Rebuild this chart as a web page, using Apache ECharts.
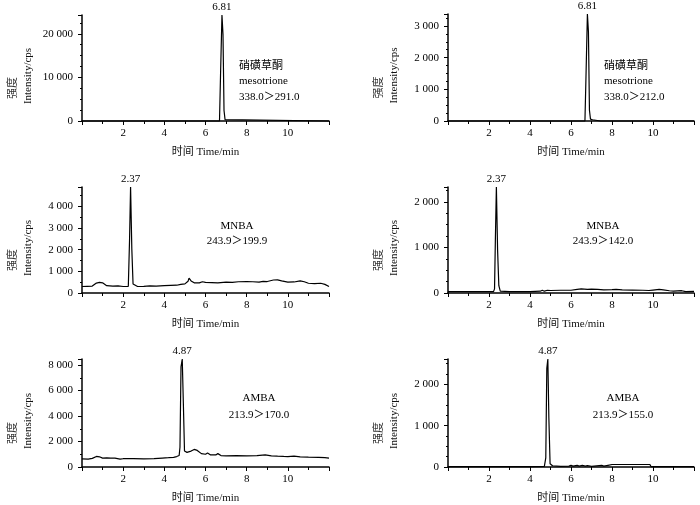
<!DOCTYPE html>
<html><head><meta charset="utf-8">
<script src="https://cdn.jsdelivr.net/npm/echarts@6/dist/echarts.min.js"></script>
<style>html,body{margin:0;padding:0;background:#fff}#c{width:700px;height:505px}</style>
</head><body><div id="c"></div>
<script>
// ---------- DATA ----------
const xTickLabels = [2, 4, 6, 8, 10];
const peakTimes = ['6.81', '6.81', '2.37', '2.37', '4.87', '4.87'];
const yMax = [24300, 3376, 4900, 2327, 8480, 2614];
const yStep = [10000, 1000, 1000, 1000, 2000, 1000];
const annotations = [
  '硝磺草酮\nmesotrione\n338.0＞291.0',
  '硝磺草酮\nmesotrione\n338.0＞212.0',
  'MNBA\n243.9＞199.9',
  'MNBA\n243.9＞142.0',
  'AMBA\n213.9＞170.0',
  'AMBA\n213.9＞155.0'
];

const meso291 = [[0,0],[6.68,0],[6.73,10500],[6.80,24300],[6.85,19800],[6.90,2400],[6.95,300],[7.0,0],[12,0]];

const meso212 = [[0,0],[0.40,0],[0.42,30],[0.46,0],[0.56,0],[0.58,30],[0.62,0],[1.17,0],[1.2,35],[1.24,0],
  [2.46,0],[2.48,25],[2.52,0],[3.27,0],[3.29,30],[3.33,0],[5.71,0],[5.73,30],[5.76,0],[5.82,0],[5.84,30],[5.88,0],
  [6.68,0],[6.73,1370],[6.80,3376],[6.85,2820],[6.90,340],[6.95,60],[7.05,40],[7.1,0],[7.44,0],[7.46,30],[7.5,0],
  [9.67,0],[9.69,30],[9.73,0],[10.03,0],[10.05,30],[10.09,0],[10.43,0],[10.45,30],[10.5,0],[10.58,0],[10.6,30],[10.64,0],
  [11.64,0],[11.66,30],[11.7,0],[12,0]];

const mnba199 = [[0,300],[0.25,310],[0.5,320],[0.7,460],[0.85,490],[1.0,470],[1.2,340],[1.5,320],[1.75,330],[2.0,300],
  [2.25,310],[2.28,320],[2.31,2450],[2.36,4900],[2.42,2050],[2.48,420],[2.55,330],[2.7,300],[3.0,310],[3.3,330],[3.6,320],
  [4.0,340],[4.3,350],[4.6,360],[4.8,400],[5.0,420],[5.15,540],[5.2,690],[5.3,560],[5.45,470],[5.7,470],[5.85,520],
  [6.0,490],[6.3,480],[6.6,470],[7.0,500],[7.3,490],[7.6,520],[8.0,530],[8.3,520],[8.6,500],[8.8,540],[9.0,530],
  [9.3,600],[9.5,610],[9.7,560],[10.0,500],[10.3,510],[10.6,560],[10.8,520],[11.0,450],[11.3,430],[11.6,450],[11.8,400],[12.0,300]];

const mnba142 = [[0,30],[1.0,30],[2.0,30],[2.22,30],[2.27,90],[2.31,1150],[2.36,2327],[2.42,930],[2.48,160],[2.55,40],
  [3.0,30],[4.0,30],[4.5,40],[4.6,60],[4.7,40],[4.85,60],[5.0,55],[5.5,60],[6.0,60],[6.3,80],[6.5,90],[6.8,80],[7.0,85],
  [7.3,80],[7.6,70],[8.0,75],[8.2,80],[8.5,70],[9.0,65],[9.5,60],[9.8,55],[10.0,65],[10.3,80],[10.5,70],[10.8,50],
  [11.0,40],[11.4,50],[11.6,30],[12,35]];

const amba170 = [[0,640],[0.3,620],[0.5,680],[0.7,830],[0.85,800],[1.0,700],[1.2,720],[1.4,690],[1.6,700],[1.85,620],
  [2.0,650],[2.5,650],[3.0,640],[3.5,650],[3.9,700],[4.2,730],[4.45,760],[4.6,820],[4.72,900],[4.76,1550],[4.81,7870],
  [4.87,8480],[4.93,4600],[4.98,1250],[5.1,1150],[5.3,1250],[5.45,1380],[5.6,1300],[5.8,1050],[6.0,1000],[6.1,1100],
  [6.25,950],[6.5,950],[6.6,1050],[6.75,900],[7.0,880],[7.5,900],[8.0,880],[8.5,900],[8.9,950],[9.2,880],[9.5,850],
  [9.8,830],[10.0,820],[10.3,850],[10.6,800],[11.0,780],[11.5,760],[11.8,730],[12,700]];

const amba155 = [[0,10],[2,10],[4,10],[4.7,15],[4.77,220],[4.82,2390],[4.87,2614],[4.92,1190],[4.98,80],[5.1,30],
  [5.5,15],[5.9,20],[6.0,40],[6.1,20],[6.3,40],[6.4,20],[6.55,40],[6.7,20],[6.8,35],[7.0,15],[7.5,40],[7.6,20],
  [7.8,40],[8.0,60],[9.0,60],[9.85,60],[9.9,10],[11,10],[12,10]];

const seriesData = [meso291, meso212, mnba199, mnba142, amba170, amba155];

// ---------- LAYOUT ----------
const FONT = "'Liberation Serif','Noto Sans CJK SC',serif";
const grids = [
  {left: 82, top: 15, width: 247, height: 106},
  {left: 448, top: 14, width: 246, height: 107},
  {left: 82, top: 187, width: 247, height: 106},
  {left: 448, top: 187, width: 246, height: 106},
  {left: 82, top: 359, width: 247, height: 108},
  {left: 448, top: 359, width: 246, height: 108}
];
const minorSplit = [4, 4, 2, 4, 2, 4];
const annoPos = [
  {x: 239, y: 58, align: 'left', lh: 15.5},
  {x: 604, y: 58, align: 'left', lh: 15.5},
  {x: 237, y: 218.5, align: 'center', lh: 15},
  {x: 603, y: 218.5, align: 'center', lh: 15},
  {x: 259, y: 389, align: 'center', lh: 17.5},
  {x: 623, y: 390, align: 'center', lh: 17}
];

function fmtNum(v) {
  return String(v).replace(/\B(?=(\d{3})+(?!\d))/g, ' ');
}

const xAxes = [], yAxes = [], series = [], graphics = [];
for (let i = 0; i < 6; i++) {
  xAxes.push({
    type: 'value', gridIndex: i, min: 0, max: 12, interval: 2,
    name: '时间 Time/min', nameLocation: 'middle', nameGap: 26,
    nameTextStyle: {fontFamily: FONT, fontSize: 11, color: '#111'},
    axisLine: {show: true, onZero: false, lineStyle: {color: '#000', width: 1.5}},
    axisTick: {show: true, length: 4, lineStyle: {color: '#000', width: 1}},
    minorTick: {show: true, splitNumber: 2, length: 3, lineStyle: {color: '#000', width: 1}},
    axisLabel: {fontFamily: FONT, fontSize: 11, color: '#000', margin: 7,
      formatter: v => (xTickLabels.indexOf(v) >= 0 ? String(v) : '')},
    splitLine: {show: false}
  });
  const step = yStep[i];
  yAxes.push({
    type: 'value', gridIndex: i, min: 0, max: yMax[i], interval: step,
    name: '{a|强度}\n{b|Intensity/cps}', nameLocation: 'middle', nameGap: 46, nameRotate: 90,
    nameTextStyle: {fontFamily: FONT, fontSize: 11, color: '#111', lineHeight: 15, padding: [0, 16, 0, 0],
      rich: {a: {fontFamily: FONT, fontSize: 11, color: '#333', lineHeight: 15, padding: [0, 24, 0, 0]},
             b: {fontFamily: FONT, fontSize: 11, color: '#111', lineHeight: 15}}},
    axisLine: {show: true, lineStyle: {color: '#000', width: 1.5}},
    axisTick: {show: true, length: 4, lineStyle: {color: '#000', width: 1}},
    minorTick: {show: true, splitNumber: minorSplit[i], length: 2, lineStyle: {color: '#000', width: 1}},
    axisLabel: {fontFamily: FONT, fontSize: 11, color: '#000', margin: 9,
      formatter: v => (v % step === 0 ? fmtNum(v) : '')},
    splitLine: {show: false}
  });
  series.push({
    type: 'line', xAxisIndex: i, yAxisIndex: i, data: seriesData[i],
    symbol: 'none', showSymbol: false, silent: true, clip: false,
    lineStyle: {color: '#000', width: 1.2},
    markPoint: {
      symbol: 'circle', symbolSize: 1, silent: true,
      itemStyle: {color: 'rgba(0,0,0,0)'},
      data: [{type: 'max', valueDim: 'y'}],
      label: {show: true, position: 'top', distance: 2, formatter: peakTimes[i],
        fontFamily: FONT, fontSize: 11, color: '#000'}
    }
  });
  const p = annoPos[i];
  graphics.push({
    type: 'text', x: p.x, y: p.y, silent: true,
    style: {text: annotations[i], fontFamily: FONT, fontSize: 11, fill: '#000',
      align: p.align, verticalAlign: 'top', lineHeight: p.lh}
  });
}

const chart = echarts.init(document.getElementById('c'), null, {renderer: 'canvas'});
chart.setOption({
  backgroundColor: '#fff',
  animation: false,
  grid: grids,
  xAxis: xAxes,
  yAxis: yAxes,
  series: series,
  graphic: graphics
});
</script>
</body></html>
